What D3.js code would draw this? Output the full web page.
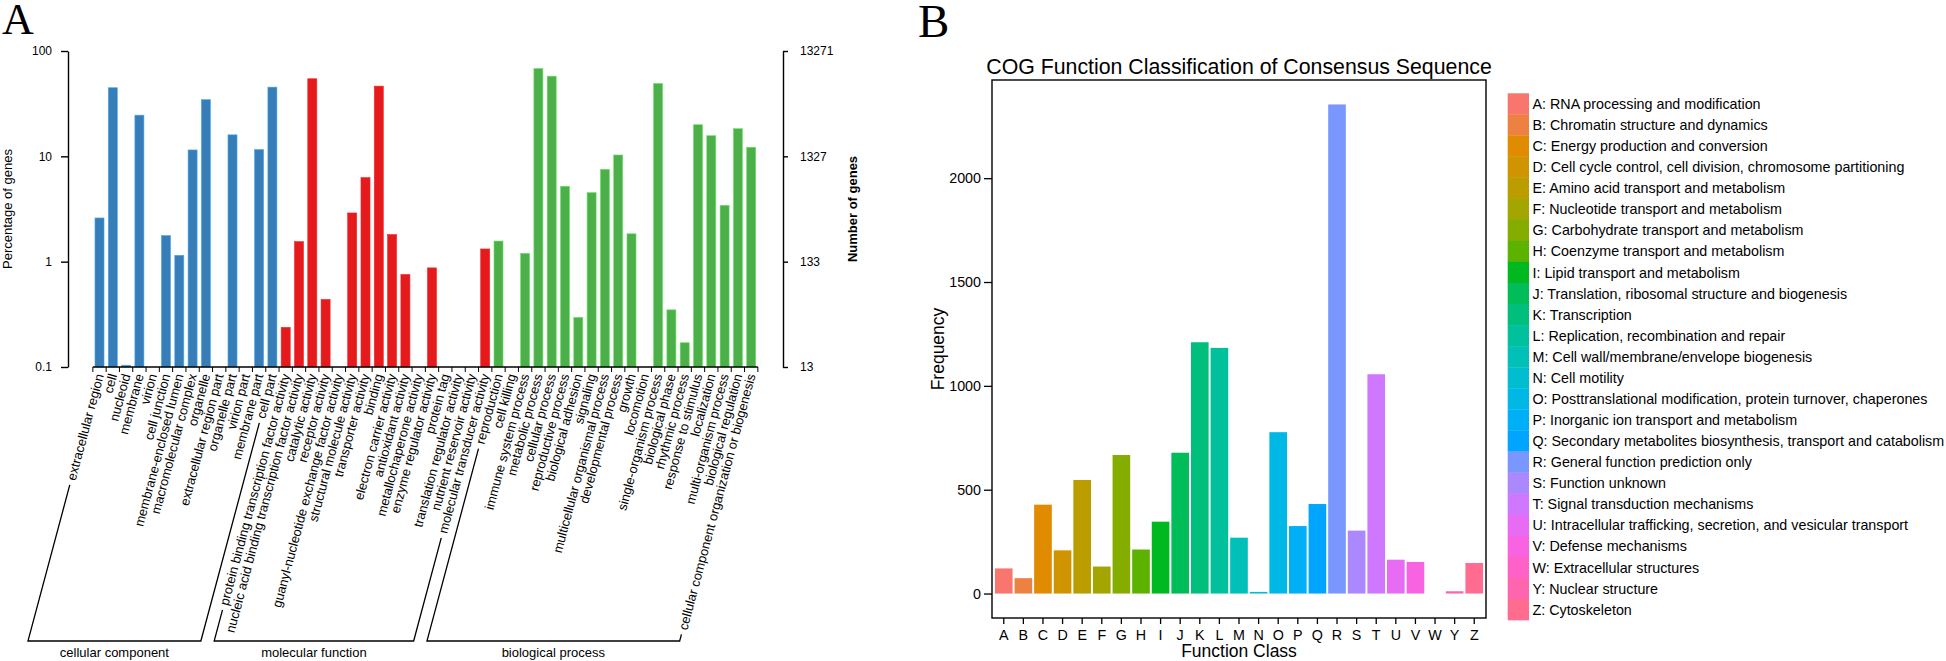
<!DOCTYPE html>
<html><head><meta charset="utf-8">
<script src="https://cdn.jsdelivr.net/npm/d3@7"></script>
<style>
body{margin:0;background:#fff}
svg{display:block}
text{font-family:"Liberation Sans",Arial,Helvetica,sans-serif;fill:#000}
</style>
</head><body>
<svg id="chart" width="1946" height="661"></svg>
<script>
// ---------- Panel A data (GO classification) ----------
const ccTerms = ["extracellular region","cell","nucleoid","membrane","virion","cell junction","membrane-enclosed lumen","macromolecular complex","organelle","extracellular region part","organelle part","virion part","membrane part","cell part"];
const ccValues = [2.6,44.8,0.104,24.6,null,1.77,1.15,11.5,34.5,null,16.0,null,11.6,45.4];
const mfTerms = ["protein binding transcription factor activity","nucleic acid binding transcription factor activity","catalytic activity","receptor activity","guanyl-nucleotide exchange factor activity","structural molecule activity","transporter activity","binding","electron carrier activity","antioxidant activity","metallochaperone activity","enzyme regulator activity","protein tag","translation regulator activity","nutrient reservoir activity","molecular transducer activity"];
const mfValues = [0.238,1.55,54.5,0.438,null,2.90,6.28,46.4,1.81,0.756,null,0.873,null,null,null,1.32];
const bpTerms = ["reproduction","cell killing","immune system process","metabolic process","cellular process","reproductive process","biological adhesion","signaling","multicellular organismal process","developmental process","growth","locomotion","single-organism process","biological phase","rhythmic process","response to stimulus","localization","multi-organism process","biological regulation","cellular component organization or biogenesis"];
const bpValues = [1.57,null,1.20,68.2,57.7,5.20,0.296,4.53,7.53,10.3,1.84,null,49.2,0.349,0.170,19.96,15.7,3.43,18.3,12.2];
const groupNames = ["cellular component","molecular function","biological process"];
const groupColors = ["#377EB8","#E41A1C","#4DAF4A"];
const pctTicks = [0.1,1,10,100];
const totalGenes = 13271;
const geneTicks = [13271/1000,13271/100,13271/10,13271];

// ---------- Panel B data (COG classification) ----------
const cogLetters = ["A","B","C","D","E","F","G","H","I","J","K","L","M","N","O","P","Q","R","S","T","U","V","W","Y","Z"];
const cogFreq = [121,74,428,208,547,130,667,212,346,678,1210,1183,269,8,777,325,431,2355,303,1056,163,152,0,11,147];
const cogNames = ["RNA processing and modification","Chromatin structure and dynamics","Energy production and conversion","Cell cycle control, cell division, chromosome partitioning","Amino acid transport and metabolism","Nucleotide transport and metabolism","Carbohydrate transport and metabolism","Coenzyme transport and metabolism","Lipid transport and metabolism","Translation, ribosomal structure and biogenesis","Transcription","Replication, recombination and repair","Cell wall/membrane/envelope biogenesis","Cell motility","Posttranslational modification, protein turnover, chaperones","Inorganic ion transport and metabolism","Secondary metabolites biosynthesis, transport and catabolism","General function prediction only","Function unknown","Signal transduction mechanisms","Intracellular trafficking, secretion, and vesicular transport","Defense mechanisms","Extracellular structures","Nuclear structure","Cytoskeleton"];
const cogYTicks = [0,500,1000,1500,2000];

// R-style hcl (polarLUV) -> hex, as in ggplot2 hue_pal
function hclR(h, c, l){
  const WY=100, Wu=0.1978398, Wv=0.4683363;
  const hr=h*Math.PI/180, U=c*Math.cos(hr), V=c*Math.sin(hr);
  const Y = WY*(l>7.999592 ? Math.pow((l+16)/116,3) : l/903.3);
  const u=U/(13*l)+Wu, v=V/(13*l)+Wv;
  const X=9*Y*u/(4*v), Z=-X/3-5*Y+3*Y/v;
  const g=t=> t>0.00304 ? 1.055*Math.pow(t,1/2.4)-0.055 : 12.92*t;
  const cl=t=>Math.max(0,Math.min(255,Math.round(255*t)));
  const r=g(( 3.240479*X-1.537150*Y-0.498535*Z)/WY);
  const gg=g((-0.969256*X+1.875992*Y+0.041556*Z)/WY);
  const b=g(( 0.055648*X-0.204043*Y+1.057311*Z)/WY);
  return d3.rgb(cl(r),cl(gg),cl(b)).formatHex();
}
const cogColors = cogLetters.map((d,i)=>hclR(15+i*360/cogLetters.length, 100, 65));

const svg = d3.select("#chart");

// ================= PANEL A =================
const terms = [...ccTerms, ...mfTerms, ...bpTerms];
const values = [...ccValues, ...mfValues, ...bpValues];
const grp = [...ccTerms.map(()=>0), ...mfTerms.map(()=>1), ...bpTerms.map(()=>2)];
const dataA = terms.map((t,i)=>({term:t, value:values[i], g:grp[i], i}));

const yTopA = 51, yBotA = 367;
const xA = d3.scaleBand().domain(d3.range(terms.length)).range([92.85, 757.85]).padding(0);
const yA = d3.scaleLog().domain([0.1,100]).range([yBotA, yTopA]);
const yA2 = d3.scaleLog().domain([totalGenes/1000,totalGenes]).range([yBotA, yTopA]);

const gA = svg.append("g");
const bw = xA.bandwidth()*0.68;
gA.selectAll("rect.bar").data(dataA.filter(d=>d.value!=null)).join("rect")
  .attr("class","bar")
  .attr("x", d=>xA(d.i)+(xA.bandwidth()-bw)/2)
  .attr("width", bw)
  .attr("y", d=>yA(d.value))
  .attr("height", d=>yBotA-yA(d.value))
  .attr("fill", d=>groupColors[d.g])
  .attr("stroke", d=>d3.color(groupColors[d.g]).brighter(0.8))
  .attr("stroke-width",0.6);

// left axis
const axL = gA.append("g").attr("transform","translate(68,0)")
  .call(d3.axisLeft(yA).tickValues(pctTicks).tickFormat(d=>String(d)).tickSize(7).tickSizeOuter(0).tickPadding(9));
// right axis
const axR = gA.append("g").attr("transform","translate(783,0)")
  .call(d3.axisRight(yA2).tickValues(geneTicks).tickFormat(d=>String(Math.round(d))).tickSize(5).tickSizeOuter(0).tickPadding(12));
[axL,axR].forEach(a=>{
  a.selectAll("path,line").attr("stroke","#000").attr("stroke-width",1.4);
  a.selectAll("text").attr("font-size",12).attr("fill","#000");
});

// bottom axis: line + ticks at category boundaries
gA.append("line").attr("x1",xA.range()[0]).attr("x2",xA.range()[1]).attr("y1",yBotA).attr("y2",yBotA)
  .attr("stroke","#000").attr("stroke-width",1.4);
gA.selectAll("line.btick").data(d3.range(terms.length+1)).join("line").attr("class","btick")
  .attr("x1",d=>xA.range()[0]+d*xA.step()).attr("x2",d=>xA.range()[0]+d*xA.step())
  .attr("y1",yBotA).attr("y2",yBotA+5).attr("stroke","#000").attr("stroke-width",1);

// rotated category labels
const ang = 75*Math.PI/180, dx = Math.cos(ang), dy = Math.sin(ang);
const labY = 374;
const labs = gA.selectAll("text.cat").data(dataA).join("text").attr("class","cat")
  .attr("transform", d=>`translate(${xA(d.i)+xA.bandwidth()/2},${labY}) rotate(-75)`)
  .attr("text-anchor","end").attr("dy","0.35em").attr("font-size",13)
  .text(d=>d.term);
const lens = [];
labs.each(function(d){ lens[d.i] = this.getComputedTextLength(); });

// group brackets
const yBr = 641;
const groupsIdx = [[0,ccTerms.length-1],[ccTerms.length, ccTerms.length+mfTerms.length-1],[ccTerms.length+mfTerms.length, terms.length-1]];
groupsIdx.forEach((r,k)=>{
  const pts = r.map(i=>{
    const cx = xA(i)+xA.bandwidth()/2;
    const s = lens[i]+5;
    const top = [cx - s*dx, labY + s*dy];
    const t = (yBr-labY)/dy;
    const bot = [cx - t*dx, yBr];
    return {top, bot};
  });
  const path = d3.path();
  path.moveTo(...pts[0].top); path.lineTo(...pts[0].bot); path.lineTo(...pts[1].bot); path.lineTo(...pts[1].top);
  gA.append("path").attr("d",path.toString()).attr("fill","none").attr("stroke","#000").attr("stroke-width",1.3);
  gA.append("text").attr("x",(pts[0].bot[0]+pts[1].bot[0])/2).attr("y",656.5)
    .attr("text-anchor","middle").attr("font-size",13).text(groupNames[k]);
});

// axis titles
gA.append("text").attr("transform",`translate(11.5,${(yTopA+yBotA)/2}) rotate(-90)`)
  .attr("text-anchor","middle").attr("font-size",13).text("Percentage of genes");
gA.append("text").attr("transform",`translate(857,${(yTopA+yBotA)/2}) rotate(-90)`)
  .attr("text-anchor","middle").attr("font-size",13).attr("font-weight","bold").text("Number of genes");

// panel letter
svg.append("text").attr("x",2).attr("y",34).attr("font-size",44)
  .style("font-family","'Liberation Serif','Times New Roman',serif").text("A");

// ================= PANEL B =================
const bx0 = 992, bx1 = 1486, by0 = 80, by1 = 618;
const gB = svg.append("g");
const maxF = d3.max(cogFreq);
const xB = d3.scaleBand().domain(cogLetters).range([bx0,bx1]).paddingInner(0.1).paddingOuter(0.15);
const yB = d3.scaleLinear().domain([-0.05*maxF, 1.05*maxF]).range([by1, by0]);

gB.selectAll("rect.cog").data(cogLetters.map((l,i)=>({l, v:cogFreq[i], c:cogColors[i]})).filter(d=>d.v>0))
  .join("rect").attr("class","cog")
  .attr("x",d=>xB(d.l)).attr("width",xB.bandwidth())
  .attr("y",d=>yB(d.v)).attr("height",d=>yB(0)-yB(d.v))
  .attr("fill",d=>d.c);

gB.append("rect").attr("x",bx0).attr("y",by0).attr("width",bx1-bx0).attr("height",by1-by0)
  .attr("fill","none").attr("stroke","#000").attr("stroke-width",1.4);

const axBL = gB.append("g").attr("transform",`translate(${bx0},0)`)
  .call(d3.axisLeft(yB).tickValues(cogYTicks).tickFormat(d3.format("d")).tickSize(8).tickSizeOuter(0).tickPadding(3));
const axBB = gB.append("g").attr("transform",`translate(0,${by1})`)
  .call(d3.axisBottom(xB).tickSize(6).tickSizeOuter(0).tickPadding(6));
[axBL,axBB].forEach(a=>{
  a.select(".domain").remove();
  a.selectAll("line").attr("stroke","#000").attr("stroke-width",1.3);
  a.selectAll("text").attr("font-size",14.3).attr("fill","#000");
});

gB.append("text").attr("x",(bx0+bx1)/2).attr("y",74).attr("text-anchor","middle")
  .attr("font-size",21.3).text("COG Function Classification of Consensus Sequence");
gB.append("text").attr("x",(bx0+bx1)/2).attr("y",657).attr("text-anchor","middle")
  .attr("font-size",17.5).text("Function Class");
gB.append("text").attr("transform",`translate(944,${(by0+by1)/2}) rotate(-90)`)
  .attr("text-anchor","middle").attr("font-size",17.5).text("Frequency");

// legend
const lgX = 1507.7, lgY = 93.3, lgH = 21.07, lgW = 21.3;
const lg = gB.selectAll("g.lg").data(cogLetters.map((l,i)=>({l, n:cogNames[i], c:cogColors[i], i}))).join("g").attr("class","lg");
lg.append("rect").attr("x",lgX).attr("y",d=>lgY+d.i*lgH).attr("width",lgW).attr("height",lgH+0.3).attr("fill",d=>d.c);
lg.append("text").attr("x",lgX+lgW+3.5).attr("y",d=>lgY+d.i*lgH+lgH/2).attr("dy","0.36em")
  .attr("font-size",14.3).text(d=>`${d.l}: ${d.n}`);

svg.append("text").attr("x",918).attr("y",36.5).attr("font-size",47)
  .style("font-family","'Liberation Serif','Times New Roman',serif").text("B");
</script>
</body></html>
